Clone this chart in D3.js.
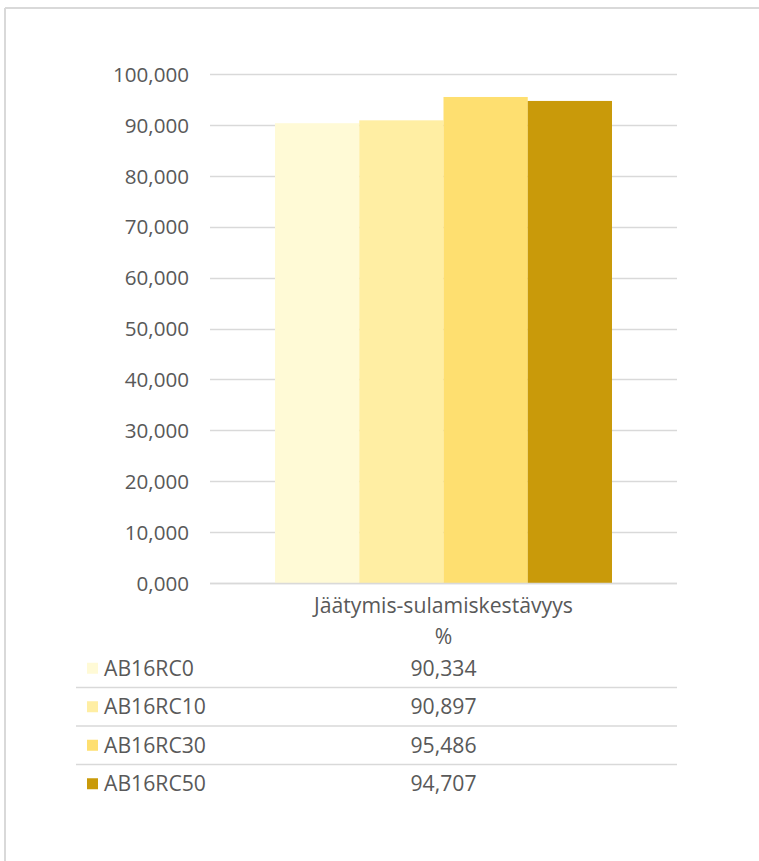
<!DOCTYPE html>
<html><head><meta charset="utf-8">
<script src="https://cdn.jsdelivr.net/npm/d3@7"></script>
<style>
html,body{margin:0;padding:0;background:#fff;}
svg{display:block;}
text{font-family:"Open Sans","Liberation Sans",sans-serif;fill:#595959;}
</style></head>
<body>
<script>
const category = "Jäätymis-sulamiskestävyys";
const unitLabel = "%";
const series = ["AB16RC0", "AB16RC10", "AB16RC30", "AB16RC50"];
const values = [90.334, 90.897, 95.486, 94.707];
const colors = ["#FFFAD6", "#FFEEA3", "#FEDF70", "#C99A0A"];
const yTicks = [0, 10, 20, 30, 40, 50, 60, 70, 80, 90, 100];

const W = 759, H = 861;
const svg = d3.select("body").append("svg").attr("width", W).attr("height", H);

// outer frame
svg.append("line").attr("x1", 5).attr("x2", W).attr("y1", 8).attr("y2", 8)
  .attr("stroke", "#d9d9d9").attr("stroke-width", 2);
svg.append("line").attr("x1", 5).attr("x2", 5).attr("y1", 8).attr("y2", H)
  .attr("stroke", "#d9d9d9").attr("stroke-width", 2);

const loc = d3.formatLocale({decimal: ",", thousands: " ", grouping: [3], currency: ["", "€"]});
const fmt = loc.format(".3f");

const plotL = 210, plotR = 677, plotT = 74, plotB = 583;
const y = d3.scaleLinear().domain([0, 100]).range([plotB, plotT]);
const x0 = d3.scaleBand().domain([category]).range([plotL, plotR]).paddingInner(0).paddingOuter(0.1929);
const x1 = d3.scaleBand().domain(series).range([0, x0.bandwidth()]).padding(0);

// gridlines
svg.append("g").selectAll("line").data(yTicks).join("line")
  .attr("x1", plotL).attr("x2", plotR)
  .attr("y1", d => Math.round(y(d)) + 0.5).attr("y2", d => Math.round(y(d)) + 0.5)
  .attr("stroke", "#d9d9d9").attr("stroke-width", 1.5);

// y axis labels
const yAxis = d3.axisLeft(y).tickValues(yTicks).tickFormat(fmt).tickSize(0).tickPadding(21);
const gy = svg.append("g").attr("transform", `translate(${plotL},0)`).call(yAxis);
gy.select(".domain").remove();
gy.selectAll("text").style("font-size", "20.6px").style("font-family", "'Open Sans', sans-serif")
  .attr("fill", "#595959").attr("dy", "0.35em");

// bars
svg.append("g").selectAll("rect").data(series).join("rect")
  .attr("x", s => x0(category) + x1(s))
  .attr("width", x1.bandwidth())
  .attr("y", (s, i) => y(values[i]))
  .attr("height", (s, i) => plotB - y(values[i]))
  .attr("fill", (s, i) => colors[i]);

// axis line redraw on top
svg.append("line").attr("x1", plotL).attr("x2", plotR).attr("y1", plotB + 0.5).attr("y2", plotB + 0.5)
  .attr("stroke", "#d9d9d9").attr("stroke-width", 1.5);

// data table
const fs = "21.2px";
const cx = x0(category) + x0.bandwidth() / 2;
svg.append("text").attr("x", cx).attr("y", 606).attr("dy", "0.35em").attr("text-anchor", "middle")
  .style("font-size", fs).text(category);
svg.append("text").attr("x", cx).attr("y", 637).attr("dy", "0.35em").attr("text-anchor", "middle")
  .style("font-size", fs).text(unitLabel);

const rowTop = 649, rowH = 38.5, tableL = 76;
const rows = svg.append("g").selectAll("g").data(series).join("g")
  .attr("transform", (s, i) => `translate(0,${rowTop + i * rowH})`);
rows.filter((s, i) => i > 0).append("line")
  .attr("x1", tableL).attr("x2", plotR).attr("y1", 0).attr("y2", 0)
  .attr("stroke", "#d9d9d9").attr("stroke-width", 1.5);
rows.append("rect").attr("x", 87).attr("y", rowH / 2 - 5.5).attr("width", 11).attr("height", 11)
  .attr("fill", (s, i) => colors[i]);
rows.append("text").attr("x", 104).attr("y", rowH / 2).attr("dy", "0.35em")
  .style("font-size", fs).text(s => s);
rows.append("text").attr("x", cx).attr("y", rowH / 2).attr("dy", "0.35em").attr("text-anchor", "middle")
  .style("font-size", fs).text((s, i) => fmt(values[i]));
</script>
</body></html>
